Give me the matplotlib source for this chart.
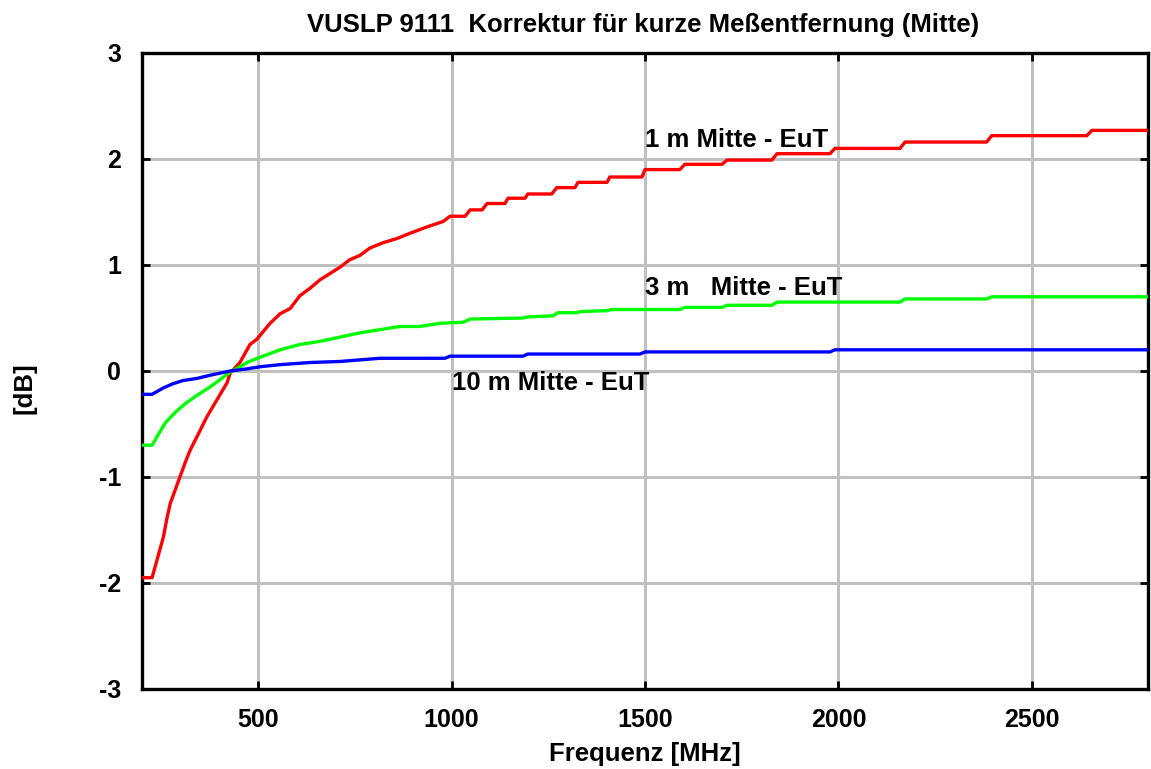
import matplotlib
matplotlib.use("Agg")
import matplotlib.pyplot as plt

plt.rcParams['font.family'] = ['Liberation Sans', 'DejaVu Sans']
plt.rcParams['font.weight'] = 'bold'
plt.rcParams['axes.unicode_minus'] = False

# 1 m Mitte - EuT (red)
f_1m = [200, 226, 239, 255, 265, 273, 286, 298, 311, 324, 342, 368, 394, 420, 428,
        453, 479, 497, 531, 557, 583, 608, 634, 660, 686, 712, 737, 763, 789, 823,
        859, 893, 937, 978, 996, 1035, 1048, 1079, 1092, 1138, 1146, 1190, 1197,
        1259, 1272, 1319, 1327, 1402, 1409, 1492, 1500, 1590, 1603, 1699, 1712,
        1828, 1841, 1978, 1991, 2159, 2172, 2383, 2396, 2642, 2655, 2800]
db_1m = [-1.95, -1.95, -1.78, -1.57, -1.38, -1.25, -1.12, -1.00, -0.87, -0.75, -0.62,
         -0.43, -0.27, -0.11, -0.02, 0.08, 0.25, 0.30, 0.45, 0.54, 0.59, 0.71, 0.78,
         0.86, 0.92, 0.98, 1.05, 1.09, 1.16, 1.21, 1.25, 1.30, 1.36, 1.41, 1.46,
         1.46, 1.52, 1.52, 1.58, 1.58, 1.63, 1.63, 1.67, 1.67, 1.73, 1.73, 1.78,
         1.78, 1.83, 1.83, 1.90, 1.90, 1.95, 1.95, 1.99, 1.99, 2.05, 2.05, 2.10,
         2.10, 2.16, 2.16, 2.22, 2.22, 2.27, 2.27]

# 3 m Mitte - EuT (green)
f_3m = [200, 226, 242, 260, 286, 311, 342, 376, 402, 428, 453, 471, 505, 557, 608,
        660, 712, 763, 815, 867, 918, 970, 1030, 1048, 1185, 1197, 1262, 1275,
        1324, 1332, 1402, 1415, 1590, 1603, 1699, 1712, 1828, 1841, 2159, 2172,
        2383, 2396, 2800]
db_3m = [-0.70, -0.70, -0.60, -0.49, -0.39, -0.31, -0.23, -0.15, -0.08, -0.01, 0.04,
         0.08, 0.13, 0.20, 0.25, 0.28, 0.32, 0.36, 0.39, 0.42, 0.42, 0.45, 0.46,
         0.49, 0.50, 0.51, 0.52, 0.55, 0.55, 0.56, 0.57, 0.58, 0.58, 0.60, 0.60,
         0.62, 0.62, 0.65, 0.65, 0.68, 0.68, 0.70, 0.70]

# 10 m Mitte - EuT (blue)
f_10m = [200, 226, 255, 280, 306, 342, 376, 428, 471, 505, 557, 634, 712, 815, 983,
         996, 1185, 1197, 1487, 1500, 1978, 1991, 2800]
db_10m = [-0.22, -0.22, -0.16, -0.12, -0.09, -0.07, -0.04, 0.00, 0.02, 0.04, 0.06,
          0.08, 0.09, 0.12, 0.12, 0.14, 0.14, 0.16, 0.16, 0.18, 0.18, 0.20, 0.20]

x_ticks = [500, 1000, 1500, 2000, 2500]
y_ticks = [-3, -2, -1, 0, 1, 2, 3]

fig = plt.figure(figsize=(11.51, 7.69), dpi=100)
ax = fig.add_axes([142 / 1151, 1 - 689 / 769, (1148 - 142) / 1151, (689 - 53) / 769])

ax.plot(f_1m, db_1m, color='#ff0000', lw=2.4, zorder=3)
ax.plot(f_3m, db_3m, color='#00ff00', lw=2.4, zorder=3)
ax.plot(f_10m, db_10m, color='#0000ff', lw=2.4, zorder=3)

ax.set_xlim(200, 2800)
ax.set_ylim(-3, 3)
ax.set_xticks(x_ticks)
ax.set_yticks(y_ticks)
ax.grid(True, color='#c0c0c0', lw=2.2)
ax.set_axisbelow(True)
for s in ax.spines.values():
    s.set_linewidth(2.4)
ax.tick_params(direction='in', length=6, width=2, top=True, right=True,
               labelsize=18)
ax.tick_params(axis='x', pad=14)
ax.tick_params(axis='y', pad=15)
for lbl in ax.get_xticklabels() + ax.get_yticklabels():
    lbl.set_fontweight('bold')

ax.text(1500, 2.18, '1 m Mitte - EuT', fontsize=18.5, fontweight='bold', va='center', ha='left')
ax.text(1500, 0.78, '3 m   Mitte - EuT', fontsize=18.5, fontweight='bold', va='center', ha='left')
ax.text(1001, -0.11, '10 m Mitte - EuT', fontsize=18.5, fontweight='bold', va='center', ha='left')

fig.text(0.559, 1 - 25 / 769, 'VUSLP 9111  Korrektur für kurze Meßentfernung (Mitte)',
         fontsize=18.5, fontweight='bold', ha='center', va='center')
fig.text(645 / 1151, 1 - 754 / 769, 'Frequenz [MHz]', fontsize=18.5, fontweight='bold',
         ha='center', va='center')
fig.text(25 / 1151, 1 - 388 / 769, '[dB]', fontsize=18.5, fontweight='bold',
         ha='center', va='center', rotation=90)

fig.savefig('out.png', dpi=100)
